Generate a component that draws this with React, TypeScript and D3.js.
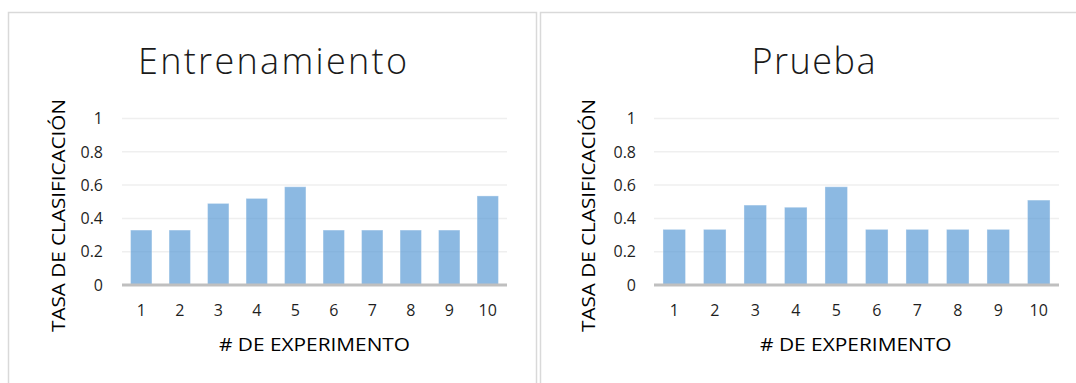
import React from "react";
import * as d3 from "d3";

const experiments = ["1", "2", "3", "4", "5", "6", "7", "8", "9", "10"];
const trainValues = [0.33, 0.33, 0.49, 0.52, 0.59, 0.33, 0.33, 0.33, 0.33, 0.535];
const testValues = [0.334, 0.334, 0.48, 0.467, 0.59, 0.334, 0.334, 0.334, 0.334, 0.51];
const yTicks = [0, 0.2, 0.4, 0.6, 0.8, 1];
const yTickLabels = ["0", "0.2", "0.4", "0.6", "0.8", "1"];
const titles = ["Entrenamiento", "Prueba"];
const yAxisTitle = "TASA DE CLASIFICACIÓN";
const xAxisTitle = "# DE EXPERIMENTO";

const FONT = "'Open Sans', 'Noto Sans', sans-serif";

type PanelProps = {
  title: string;
  values: number[];
  frame: { x: number; y: number; w: number; h: number };
  plot: { x0: number; x1: number; y0: number; y1: number };
  titleBox: { x0: number; x1: number; baseline: number };
  yLabel: { x: number; y0: number; y1: number };
  xLabel: { x0: number; x1: number; baseline: number };
  tickRight: number;
};

function Panel(p: PanelProps) {
  const x = d3
    .scaleBand<string>()
    .domain(experiments)
    .range([p.plot.x0, p.plot.x1])
    .paddingInner(0.444)
    .paddingOuter(0.222);
  const y = d3.scaleLinear().domain([0, 1]).range([p.plot.y1, p.plot.y0]);
  return (
    <g>
      <rect
        x={p.frame.x}
        y={p.frame.y}
        width={p.frame.w}
        height={p.frame.h}
        fill="#fff"
        stroke="#D9D9D9"
        strokeWidth={1.5}
      />
      <text
        x={(p.titleBox.x0 + p.titleBox.x1) / 2}
        y={p.titleBox.baseline}
        textAnchor="middle"
        fontFamily={FONT}
        fontWeight={300}
        fontSize={36}
        fill="#1a1a1a"
        textLength={p.titleBox.x1 - p.titleBox.x0}
        lengthAdjust="spacing"
      >
        {p.title}
      </text>
      {yTicks.map((t) => (
        <line
          key={"g" + t}
          x1={p.plot.x0}
          x2={p.plot.x1}
          y1={y(t)}
          y2={y(t)}
          stroke="#EFEFEF"
          strokeWidth={1.5}
        />
      ))}
      {p.values.map((v, i) => (
        <rect
          key={"b" + i}
          x={x(experiments[i])!}
          y={y(v)}
          width={x.bandwidth()}
          height={y(0) - y(v)}
          fill="#5B9BD5"
          fillOpacity={0.7}
          stroke="#ffffff"
          strokeOpacity={0.35}
          strokeWidth={1}
        />
      ))}
      <line
        x1={p.plot.x0}
        x2={p.plot.x1}
        y1={y(0)}
        y2={y(0)}
        stroke="#BFBFBF"
        strokeWidth={3}
      />
      {yTicks.map((t, i) => (
        <text
          key={"yt" + t}
          x={p.tickRight}
          y={y(t)}
          dy="0.36em"
          textAnchor="end"
          fontFamily={FONT}
          fontSize={16}
          fill="#1f1f1f"
        >
          {yTickLabels[i]}
        </text>
      ))}
      {experiments.map((e) => (
        <text
          key={"xt" + e}
          x={x(e)! + x.bandwidth() / 2}
          y={315.5}
          textAnchor="middle"
          fontFamily={FONT}
          fontSize={16}
          fill="#1f1f1f"
        >
          {e}
        </text>
      ))}
      <text
        transform={`translate(${p.yLabel.x},${(p.yLabel.y0 + p.yLabel.y1) / 2}) rotate(-90)`}
        textAnchor="middle"
        fontFamily={FONT}
        fontSize={19}
        fill="#000"
        textLength={p.yLabel.y1 - p.yLabel.y0}
        lengthAdjust="spacingAndGlyphs"
      >
        {yAxisTitle}
      </text>
      <text
        x={(p.xLabel.x0 + p.xLabel.x1) / 2}
        y={p.xLabel.baseline}
        textAnchor="middle"
        fontFamily={FONT}
        fontSize={19}
        fill="#000"
        textLength={p.xLabel.x1 - p.xLabel.x0}
        lengthAdjust="spacingAndGlyphs"
      >
        {xAxisTitle}
      </text>
    </g>
  );
}

export default function App() {
  return (
    <svg
      width={1076}
      height={383}
      style={{ position: "absolute", left: 0, top: 0, background: "#fff" }}
    >
      <Panel
        title={titles[0]}
        values={trainValues}
        frame={{ x: 8.5, y: 12.5, w: 528, h: 400 }}
        plot={{ x0: 122, x1: 507, y0: 118.5, y1: 285 }}
        titleBox={{ x0: 138, x1: 407, baseline: 73.5 }}
        yLabel={{ x: 65, y0: 99, y1: 332 }}
        xLabel={{ x0: 219, x1: 410, baseline: 350.5 }}
        tickRight={103}
      />
      <Panel
        title={titles[1]}
        values={testValues}
        frame={{ x: 540.5, y: 12.5, w: 560, h: 400 }}
        plot={{ x0: 654, x1: 1059, y0: 118.5, y1: 285 }}
        titleBox={{ x0: 751.5, x1: 875.5, baseline: 73.5 }}
        yLabel={{ x: 594.5, y0: 99, y1: 332 }}
        xLabel={{ x0: 760, x1: 951.5, baseline: 350.5 }}
        tickRight={636}
      />
    </svg>
  );
}
